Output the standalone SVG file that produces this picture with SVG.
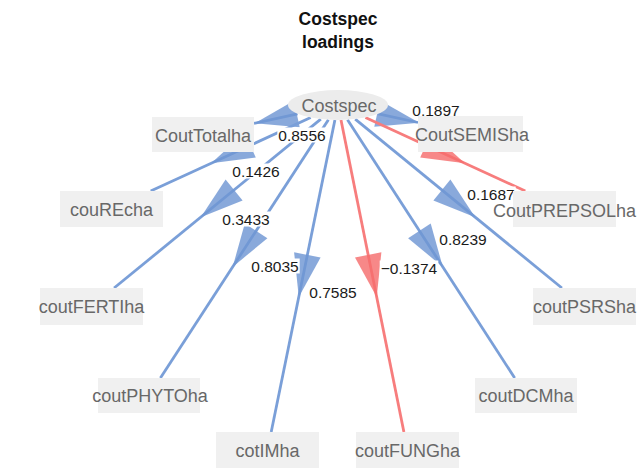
<svg xmlns="http://www.w3.org/2000/svg" width="637" height="470" viewBox="0 0 637 470">
<style>
.title{font-family:"Liberation Sans",Arial,sans-serif;font-weight:bold;font-size:17.5px;fill:#111;text-anchor:middle}
.node rect{fill:#f0f0f0}
.node ellipse{fill:#ececec}
.node text{font-family:"Liberation Sans",Arial,sans-serif;font-size:18px;fill:#686868;text-anchor:middle}
.pos line{stroke:#7a9fd8;stroke-width:2.8}
.pos polygon{fill:#6f96d3;fill-opacity:0.82}
.neg line{stroke:#f77d7d;stroke-width:2.8}
.neg polygon{fill:#f56e6e;fill-opacity:0.82}
.lbl rect{fill:#fff}
.lbl text{font-family:"Liberation Sans",Arial,sans-serif;font-size:15.5px;fill:#1a1a1a;text-anchor:middle}
</style>
<rect width="637" height="470" fill="#fff"/>
<text class="title" x="338" y="25">Costspec</text>
<text class="title" x="338" y="48">loadings</text>

<g id="connectors">
  <g class="pos" id="e-CoutTotalha">
    <line x1="297.6" y1="113.8" x2="254" y2="123.4"/>
    <polygon points="254.8,123.2 293.9,100.8 299.7,127.2"/>
  </g>
  <g class="pos" id="e-CoutSEMISha">
    <line x1="378.4" y1="113.8" x2="418" y2="122.5"/>
    <polygon points="419.2,122.8 374.3,126.8 380.1,100.4"/>
  </g>
  <g class="pos" id="e-couREcha">
    <line x1="310.7" y1="117.6" x2="150.7" y2="191"/>
    <polygon points="211.1,163.3 244.6,133.0 255.8,157.6"/>
  </g>
  <g class="neg" id="e-CoutPREPSOLha">
    <line x1="365.4" y1="117.6" x2="525.3" y2="191"/>
    <polygon points="464.9,163.3 420.2,157.6 431.4,133.0"/>
  </g>
  <g class="pos" id="e-coutFERTIha">
    <line x1="320.8" y1="119.1" x2="114.1" y2="288"/>
    <polygon points="200.8,217.2 225.6,179.5 242.6,200.4"/>
  </g>
  <g class="pos" id="e-coutPSRSha">
    <line x1="355.2" y1="119.1" x2="561.9" y2="288"/>
    <polygon points="475.2,217.2 433.4,200.4 450.4,179.5"/>
  </g>
  <g class="pos" id="e-coutPHYTOha">
    <line x1="328.4" y1="119.7" x2="160.4" y2="378"/>
    <polygon points="232.7,266.9 244.8,223.4 267.4,238.2"/>
  </g>
  <g class="pos" id="e-coutDCMha">
    <line x1="347.5" y1="119.7" x2="514.7" y2="378"/>
    <polygon points="442.8,266.9 408.1,238.2 430.7,223.5"/>
  </g>
  <g class="pos" id="e-cotIMha">
    <line x1="334.9" y1="120" x2="271.2" y2="432"/>
    <polygon points="298.8,297.1 294.1,252.2 320.6,257.6"/>
  </g>
  <g class="neg" id="e-coutFUNGha">
    <line x1="341" y1="120" x2="403.9" y2="432"/>
    <polygon points="376.7,297.1 355.0,257.6 381.4,252.2"/>
  </g>
  <g class="lbl">
    <rect x="277.3" y="127.5" width="49.4" height="15"/><text x="302" y="140.5">0.8556</text>
    <rect x="231.3" y="163.5" width="49.4" height="15"/><text x="256" y="176.5">0.1426</text>
    <rect x="221.3" y="211.5" width="49.4" height="15"/><text x="246" y="224.5">0.3433</text>
    <rect x="250.3" y="258.5" width="49.4" height="15"/><text x="275" y="271.5">0.8035</text>
    <rect x="308.3" y="284.5" width="49.4" height="15"/><text x="333" y="297.5">0.7585</text>
    <rect x="379.7" y="260.5" width="58.6" height="15"/><text x="409" y="273.5">−0.1374</text>
    <rect x="438.3" y="231.5" width="49.4" height="15"/><text x="463" y="244.5">0.8239</text>
    <rect x="466.3" y="186.5" width="49.4" height="14"/><text x="491" y="199.5">0.1687</text>
    <rect x="411.3" y="102.5" width="49.4" height="15"/><text x="436" y="115.5">0.1897</text>
  </g>
</g>

<g id="n-Costspec" class="node"><ellipse cx="338" cy="105" rx="50" ry="15"/><text x="339" y="112">Costspec</text></g>
<g id="n-CoutTotalha" class="node"><rect x="152" y="117" width="102" height="35"/><text x="203" y="141.5">CoutTotalha</text></g>
<g id="n-CoutSEMISha" class="node"><rect x="418" y="116" width="105" height="36"/><text x="472" y="141">CoutSEMISha</text></g>
<g id="n-couREcha" class="node"><rect x="60" y="191" width="103" height="36"/><text x="111.5" y="215.5">couREcha</text></g>
<g id="n-CoutPREPSOLha" class="node"><rect x="513" y="191" width="103" height="36"/><text x="564.5" y="216.5">CoutPREPSOLha</text></g>
<g id="n-coutFERTIha" class="node"><rect x="40" y="288" width="103" height="37"/><text x="91.5" y="313">coutFERTIha</text></g>
<g id="n-coutPSRSha" class="node"><rect x="533" y="288" width="103" height="37"/><text x="584.5" y="313">coutPSRSha</text></g>
<g id="n-coutPHYTOha" class="node"><rect x="98" y="378" width="102" height="35"/><text x="150" y="402">coutPHYTOha</text></g>
<g id="n-coutDCMha" class="node"><rect x="475" y="378" width="102" height="35"/><text x="526" y="402">coutDCMha</text></g>
<g id="n-cotIMha" class="node"><rect x="216" y="432" width="103" height="36"/><text x="267.5" y="456.5">cotIMha</text></g>
<g id="n-coutFUNGha" class="node"><rect x="356" y="432" width="103" height="36"/><text x="407.5" y="456.5">coutFUNGha</text></g>
</svg>
